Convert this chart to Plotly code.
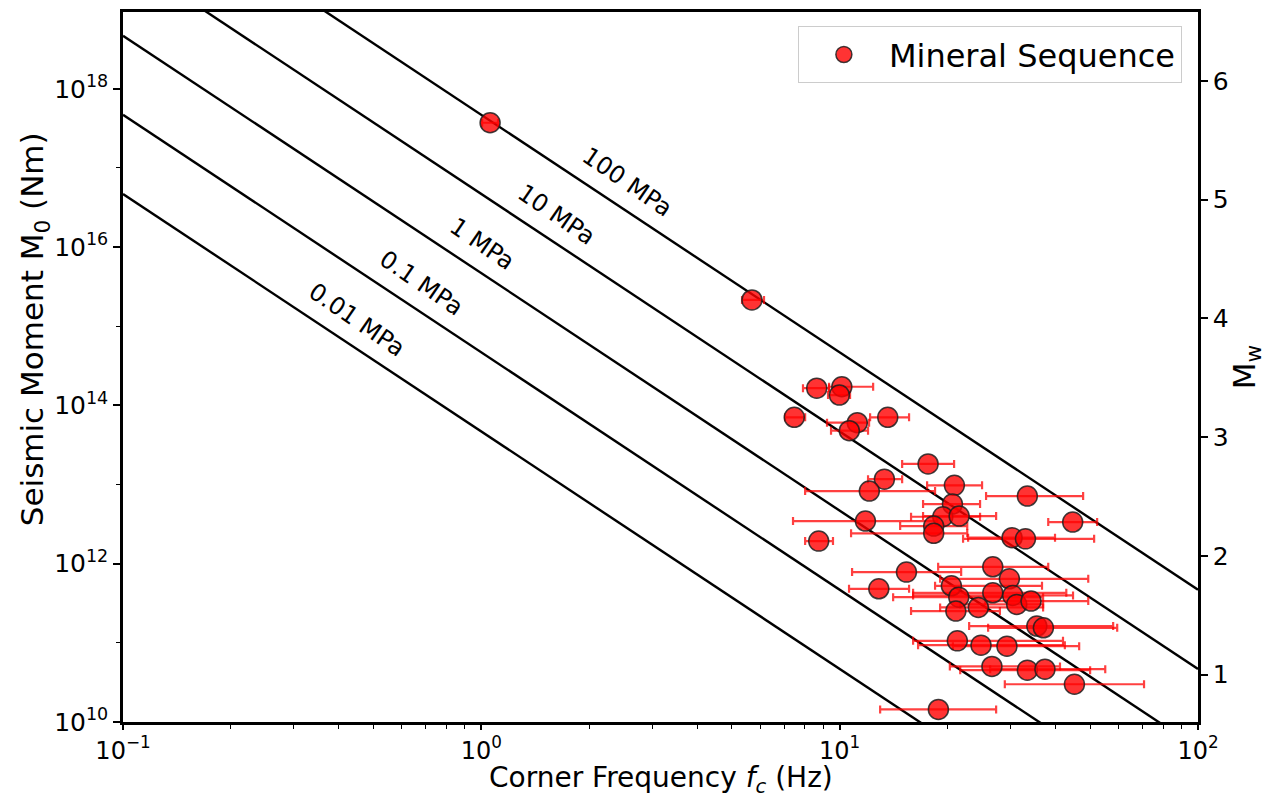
import numpy as np
import plotly.graph_objects as go

# ---- data ----
fc = [8.63, 10.14, 9.98, 7.47, 11.2, 13.62, 10.64, 17.65, 13.33, 20.9,
      12.1, 33.4, 20.64, 19.4, 21.55, 11.8, 44.7, 18.3, 18.3, 30.28,
      33.0, 8.74, 26.75, 15.36, 29.76, 20.5, 12.86, 26.75, 21.5, 30.4,
      31.2, 34.2, 21.1, 24.38, 35.5, 37.03, 21.3, 24.8, 29.3, 26.6,
      33.4, 37.4, 45.2, 18.86, 1.058, 5.69]
fc_lo = [7.90, 9.34, 9.28, 7.04, 9.22, 12.16, 9.46, 14.94, 12.0, 17.54,
         8.01, 25.62, 17.09, 15.82, 17.09, 7.41, 38.2, 14.75, 10.76, 22.83,
         22.1, 8.01, 18.83, 10.83, 19.07, 18.46, 10.62, 16.03, 14.1, 16.03,
         21.7, 25.5, 15.82, 19.07, 22.98, 25.96, 16.03, 16.55, 20.7, 20.3,
         21.7, 26.3, 28.9, 12.97, 1.005, 5.34]
fc_hi = [9.34, 12.40, 10.69, 8.01, 12.08, 15.62, 12.0, 20.86, 14.94, 24.97,
         18.46, 47.8, 24.65, 24.65, 27.33, 18.7, 52.3, 22.7, 22.7, 39.9,
         51.3, 9.58, 38.2, 21.83, 49.4, 36.7, 15.62, 42.9, 36.96, 44.8,
         36.96, 49.4, 28.0, 36.96, 57.97, 59.5, 42.0, 42.5, 46.6, 41.2,
         50.0, 55.1, 70.7, 27.33, 1.113, 6.15]
M0 = [1.65e14, 1.72e14, 1.35e14, 7.07e13, 6.04e13, 7.07e13, 4.79e13, 1.82e13, 1.17e13, 9.77e12,
      8.27e12, 7.16e12, 5.67e12, 3.92e12, 4.0e12, 3.46e12, 3.36e12, 2.99e12, 2.42e12, 2.13e12,
      2.06e12, 1.93e12, 9.14e11, 7.83e11, 6.44e11, 5.26e11, 4.82e11, 4.29e11, 3.78e11, 3.97e11,
      3.06e11, 3.37e11, 2.52e11, 2.80e11, 1.63e11, 1.55e11, 1.06e11, 9.35e10, 9.08e10, 5.03e10,
      4.52e10, 4.65e10, 3.0e10, 1.44e10, 3.72e17, 2.15e15]

stress_drops_MPa = [0.01, 0.1, 1, 10, 100]
stress_labels = ["0.01 MPa", "0.1 MPa", "1 MPa", "10 MPa", "100 MPa"]
label_logfc = [-0.347, -0.168, 0.002, 0.211, 0.407]
k_beta = 1270.0  # k * beta (m/s) for the Brune-type circular source

x_tickvals = [0.1, 1, 10, 100]
x_ticktext = ["10<sup>−1</sup>", "10<sup>0</sup>", "10<sup>1</sup>", "10<sup>2</sup>"]
y_tickvals = [1e10, 1e12, 1e14, 1e16, 1e18]
y_ticktext = ["10<sup>10</sup>", "10<sup>12</sup>", "10<sup>14</sup>", "10<sup>16</sup>", "10<sup>18</sup>"]
mw_ticks = [1, 2, 3, 4, 5, 6]

ylog_range = [10, 18.97]

def moment(dsig_mpa, f):
    return 16.0 / 7.0 * dsig_mpa * 1e6 * (k_beta / np.asarray(f)) ** 3

fig = go.Figure()
fgrid = np.logspace(-1, 2, 200)
for s in stress_drops_MPa:
    fig.add_trace(go.Scatter(x=fgrid, y=moment(s, fgrid), mode="lines",
                             line=dict(color="black", width=2.4),
                             showlegend=False, hoverinfo="skip"))

fc_a = np.array(fc); lo = np.array(fc_lo); hi = np.array(fc_hi)
fig.add_trace(go.Scatter(
    x=fc, y=M0, mode="markers", name="Mineral Sequence",
    marker=dict(size=20, color="rgba(255,0,0,0.8)",
                line=dict(color="rgba(30,30,30,0.85)", width=1.5)),
    error_x=dict(type="data", symmetric=False, array=list(hi - fc_a),
                 arrayminus=list(fc_a - lo), color="rgba(255,0,0,0.75)",
                 thickness=2.2, width=4)))

# invisible trace on the Mw axis so it is drawn
fig.add_trace(go.Scatter(x=[1], y=[3], yaxis="y2", mode="markers",
                         marker=dict(opacity=0), showlegend=False, hoverinfo="skip"))

for s, lab, lx in zip(stress_drops_MPa, stress_labels, label_logfc):
    ly = np.log10(moment(s, 10 ** lx)) + 0.37
    fig.add_annotation(x=lx, y=ly, xref="x", yref="y", text=lab, showarrow=False,
                       textangle=34.5, font=dict(family="DejaVu Sans", size=24, color="black"))

mw_range = [(v - 9.1) * 2.0 / 3.0 for v in ylog_range]

axis_font = dict(family="DejaVu Sans", size=25, color="black")
title_font = dict(family="DejaVu Sans", size=31, color="black")
xtitle_font = dict(family="DejaVu Sans", size=28, color="black")

# axis titles as annotations for exact placement
fig.add_annotation(text="Corner Frequency <i>f<sub>c</sub></i> (Hz)", xref="paper", yref="paper",
                   x=0.5, y=-0.081, xanchor="center", yanchor="middle", showarrow=False,
                   font=xtitle_font)
fig.add_annotation(text="Seismic Moment M<sub>0</sub> (Nm)", xref="paper", yref="paper",
                   x=-0.082, y=0.553, xanchor="center", yanchor="middle", showarrow=False,
                   textangle=-90, font=title_font)

fig.update_layout(
    width=1272, height=800,
    margin=dict(l=123, r=74, t=12, b=78),
    plot_bgcolor="white", paper_bgcolor="white",
    font=dict(family="DejaVu Sans", color="black"),
    xaxis=dict(type="log", range=[-1, 2], showgrid=False, zeroline=False,
               showline=True, linecolor="black", linewidth=2.5, mirror=True,
               automargin=False,
               ticks="outside", ticklen=5, tickwidth=1.5, tickcolor="black",
               tickmode="array", tickvals=x_tickvals, ticktext=x_ticktext,
               tickfont=dict(family="DejaVu Sans", size=24, color="black"),
               minor=dict(ticks="outside", ticklen=4, tickwidth=1, tickcolor="black",
                          tickmode="array",
                          tickvals=[m * d for d in [0.1, 1, 10] for m in range(2, 10)])),
    yaxis=dict(type="log", range=ylog_range, showgrid=False, zeroline=False,
               showline=True, linecolor="black", linewidth=2.5, mirror=True,
               automargin=False,
               ticks="outside", ticklen=7, tickwidth=1.5, tickcolor="black",
               tickmode="array", tickvals=y_tickvals, ticktext=y_ticktext,
               tickfont=axis_font,
               minor=dict(ticks="outside", ticklen=4, tickwidth=1, tickcolor="black",
                          tickmode="array", tickvals=[1e11, 1e13, 1e15, 1e17])),
    yaxis2=dict(overlaying="y", side="right", range=mw_range, showgrid=False, zeroline=False,
                showline=True, linecolor="black", linewidth=2.5, automargin=False,
                ticks="outside", ticklen=7, tickwidth=1.5, tickcolor="black",
                tickmode="array", tickvals=mw_ticks, tickfont=axis_font,
                title=dict(text="M<sub>w</sub>", font=title_font, standoff=6)),
    legend=dict(x=0.985, y=0.98, xanchor="right", yanchor="top",
                bgcolor="white", bordercolor="#cccccc", borderwidth=1,
                itemwidth=80,
                font=dict(family="DejaVu Sans", size=32, color="black")),
    showlegend=True,
)

fig.write_html("out.html")
